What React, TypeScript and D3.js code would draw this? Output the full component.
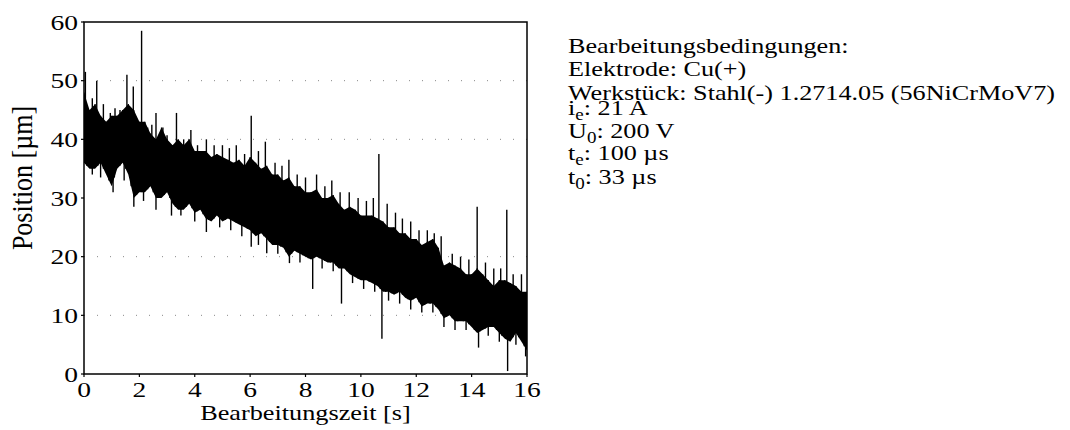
import React from "react";
import * as d3 from "d3";

// time grid (s) for the envelope of the dense position signal
const times: number[] = [
  0, 0.2, 0.4, 0.6, 0.8, 1.0, 1.2, 1.4, 1.6, 1.8, 2.0, 2.2, 2.4, 2.6, 2.8, 3.0,
  3.2, 3.4, 3.6, 3.8, 4.0, 4.2, 4.4, 4.6, 4.8, 5.0, 5.2, 5.4, 5.6, 5.8, 6.0,
  6.2, 6.4, 6.6, 6.8, 7.0, 7.2, 7.4, 7.6, 7.8, 8.0, 8.2, 8.4, 8.6, 8.8, 9.0,
  9.2, 9.4, 9.6, 9.8, 10.0, 10.2, 10.4, 10.6, 10.8, 11.0, 11.2, 11.4, 11.6,
  11.8, 12.0, 12.2, 12.4, 12.6, 12.8, 13.0, 13.2, 13.4, 13.6, 13.8, 14.0, 14.2,
  14.4, 14.6, 14.8, 15.0, 15.2, 15.4, 15.6, 15.8, 16.0,
];
// upper edge of the band (µm)
const upper: number[] = [
  48, 45, 46, 44, 43, 44, 44, 45, 46, 45, 43, 43, 41, 40, 42, 40,
  39, 40, 39, 40, 38, 38, 38, 37, 37.5, 37, 36.5, 36, 36.5, 35.5, 37,
  36, 35, 35.5, 34, 34, 33, 33.5, 32, 32, 31, 31, 31.5, 30, 30, 30.5,
  29, 28, 28.5, 28, 27, 27, 27, 26.5, 26, 25, 25, 24, 24,
  23, 23, 22, 22.5, 23, 21.5, 18.5, 19, 18.5, 18, 17, 17, 18,
  17, 16, 15, 16, 16, 15.5, 15, 14, 14,
];
// lower edge of the band (µm)
const lower: number[] = [
  36, 35, 35, 36, 34, 32, 35, 36, 34, 30, 31, 31, 32, 30, 30, 31,
  29, 28, 28, 29, 27.5, 28, 26.5, 26, 27, 26, 26.5, 26, 25.5, 25, 24.5,
  23.5, 24, 23, 22, 22, 21.5, 20, 21, 20.5, 20, 19.5, 20, 19.5, 19, 19,
  18, 18, 17, 16.5, 16, 16, 15.5, 15, 14, 14, 13.5, 14, 13,
  12.5, 13, 11.5, 12, 12, 11, 9.5, 10, 9, 9, 9, 8, 7,
  7.5, 8, 8, 7, 6, 5.5, 7, 5.5, 4,
];
// isolated spikes above the band: [time s, peak µm]
const spikesUp: [number, number][] = [
  [0.05, 51.5], [0.3, 47], [0.46, 50], [0.7, 46], [0.95, 44.5], [1.12, 45.3],
  [1.3, 45], [1.55, 51], [1.78, 49], [2.08, 58.5], [2.3, 42], [2.45, 42.5],
  [2.6, 44.5], [2.85, 42], [3.0, 40.7], [3.34, 44.5], [3.6, 40], [3.86, 41.6],
  [4.1, 39], [4.42, 40], [4.7, 39], [5.0, 39], [5.25, 38.5], [5.5, 39],
  [5.8, 37.5], [6.04, 44], [6.3, 38], [6.55, 39.6], [6.9, 36], [7.15, 35.5],
  [7.4, 36.5], [7.7, 34], [8.0, 33.5], [8.4, 34], [8.7, 32], [8.95, 33],
  [9.25, 31], [9.58, 31], [9.9, 30], [10.2, 29.5], [10.45, 30], [10.65, 37.5],
  [10.95, 29], [11.25, 27.5], [11.5, 26.5], [11.8, 26], [12.1, 24.5],
  [12.4, 24.5], [12.65, 24], [12.9, 23.5], [13.3, 20.5], [13.6, 20],
  [13.9, 19.5], [14.2, 28.5], [14.5, 19], [14.8, 18], [15.05, 18], [15.27, 28],
  [15.5, 17], [15.8, 17],
];
// isolated spikes below the band: [time s, trough µm]
const spikesDown: [number, number][] = [
  [0.3, 34], [0.6, 33.5], [1.05, 31], [1.45, 33], [1.8, 28.5], [2.15, 29.5],
  [2.6, 28], [3.16, 27], [3.5, 27], [4.0, 26], [4.42, 24.2], [4.9, 25],
  [5.3, 24.5], [5.7, 23.5], [6.04, 21.7], [6.3, 22], [6.6, 20.6], [7.0, 20.5],
  [7.42, 18.9], [7.8, 19], [8.26, 14.5], [8.6, 18], [9.0, 17.5], [9.3, 12],
  [9.7, 15.5], [10.1, 14.5], [10.5, 14], [10.76, 6], [11.0, 12.5], [11.4, 12],
  [11.8, 11], [12.2, 10.5], [12.6, 10.5], [13.0, 8], [13.4, 7.5], [13.8, 7.5],
  [14.25, 4.5], [14.6, 6.5], [15.0, 5.5], [15.3, 0.5], [15.6, 5], [15.95, 3],
];

const xTicks: number[] = [0, 2, 4, 6, 8, 10, 12, 14, 16];
const yTicks: number[] = [0, 10, 20, 30, 40, 50, 60];
const gridY: number[] = [10, 20, 40, 50];

const infoLines: { main: string; sub?: string; rest?: string }[] = [
  { main: "Bearbeitungsbedingungen:" },
  { main: "Elektrode: Cu(+)" },
  { main: "Werkstück: Stahl(-) 1.2714.05 (56NiCrMoV7)" },
  { main: "i", sub: "e", rest: ": 21 A" },
  { main: "U", sub: "0", rest: ": 200 V" },
  { main: "t", sub: "e", rest: ": 100 µs" },
  { main: "t", sub: "0", rest: ": 33 µs" },
];
const infoBaselines: number[] = [53, 76, 100, 115, 138, 160, 184];

const FONT = "'Liberation Serif', 'Times New Roman', serif";
const SX = 1.19;

export default function App() {
  const L = 84, R = 527, T = 22, B = 374;
  const x = d3.scaleLinear().domain([0, 16]).range([L, R]);
  const y = d3.scaleLinear().domain([0, 60]).range([B, T]);

  const band = d3
    .area<number>()
    .x((_, i) => x(times[i]))
    .y0((_, i) => y(lower[i]))
    .y1((_, i) => y(upper[i]));
  const bandPath = band(times) || "";

  // zigzag texture between the edges
  const zz: [number, number][] = [];
  times.forEach((t, i) => {
    zz.push([x(t), y(upper[i])]);
    if (i < times.length - 1) {
      const tm = (t + times[i + 1]) / 2;
      const lm = (lower[i] + lower[i + 1]) / 2;
      zz.push([x(tm), y(lm)]);
    }
  });
  const zzPath = d3.line()(zz) || "";

  const upAt = d3.scaleLinear().domain(times).range(upper);
  const loAt = d3.scaleLinear().domain(times).range(lower);

  return (
    <svg
      width={1070}
      height={430}
      style={{ position: "absolute", left: 0, top: 0, background: "#fff" }}
      fontFamily={FONT}
    >
      <defs>
        <clipPath id="plotclip">
          <rect x={L} y={T} width={R - L} height={B - T} />
        </clipPath>
      </defs>

      {gridY.map((v) => (
        <line
          key={"g" + v}
          x1={L}
          x2={R}
          y1={y(v)}
          y2={y(v)}
          stroke="#888"
          strokeWidth={1}
          strokeDasharray="1 12"
        />
      ))}

      <g clipPath="url(#plotclip)">
        <path d={bandPath} fill="#000" />
        <path d={zzPath} fill="none" stroke="#000" strokeWidth={1.2} />
        {spikesUp.map(([t, v], i) => (
          <line
            key={"su" + i}
            x1={x(t)}
            x2={x(t)}
            y1={y(loAt(t) + 2)}
            y2={y(v)}
            stroke="#000"
            strokeWidth={1.4}
          />
        ))}
        {spikesDown.map(([t, v], i) => (
          <line
            key={"sd" + i}
            x1={x(t)}
            x2={x(t)}
            y1={y(upAt(t) - 2)}
            y2={y(v)}
            stroke="#000"
            strokeWidth={1.4}
          />
        ))}
      </g>

      <rect
        x={L}
        y={T}
        width={R - L}
        height={B - T}
        fill="none"
        stroke="#000"
        strokeWidth={1.5}
      />

      {yTicks.map((v) => (
        <g key={"yt" + v}>
          <line x1={L - 3} x2={L} y1={y(v)} y2={y(v)} stroke="#000" strokeWidth={1.2} />
          <text
            transform={`translate(${L - 6},${y(v)}) scale(1.25,1)`}
            textAnchor="end"
            dy="0.35em"
            fontSize={22}
          >
            {v}
          </text>
        </g>
      ))}
      {xTicks.map((v) => (
        <g key={"xt" + v}>
          <line x1={x(v)} x2={x(v)} y1={B} y2={B + 3} stroke="#000" strokeWidth={1.2} />
          <text
            transform={`translate(${x(v)},${397}) scale(1.25,1)`}
            textAnchor="middle"
            fontSize={22}
          >
            {v}
          </text>
        </g>
      ))}

      <text
        transform={`translate(${(L + R) / 2},${420}) scale(1.25,1)`}
        textAnchor="middle"
        fontSize={21}
      >
        Bearbeitungszeit [s]
      </text>
      <text
        transform={`translate(32,178) scale(1.15,1) rotate(-90)`}
        textAnchor="middle"
        fontSize={26}
      >
        Position [µm]
      </text>

      {infoLines.map((ln, i) => (
        <text
          key={"info" + i}
          transform={`translate(568,${infoBaselines[i]}) scale(${SX},1)`}
          fontSize={22}
        >
          {ln.main}
          {ln.sub && (
            <tspan dy={5} fontSize={16}>
              {ln.sub}
            </tspan>
          )}
          {ln.rest && <tspan dy={-5}>{ln.rest}</tspan>}
        </text>
      ))}
    </svg>
  );
}
